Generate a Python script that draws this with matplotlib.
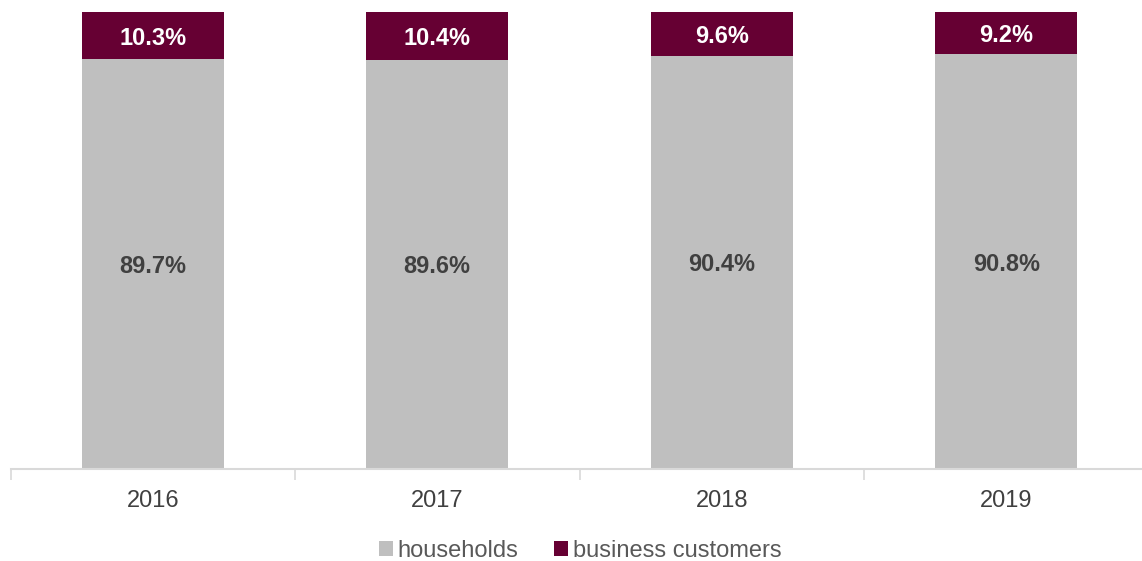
import matplotlib.pyplot as plt
import numpy as np

plt.rcParams['font.family'] = ['Liberation Sans', 'DejaVu Sans']

years = ['2016', '2017', '2018', '2019']
households = [89.7, 89.6, 90.4, 90.8]
business = [10.3, 10.4, 9.6, 9.2]

grey = '#BFBFBF'
maroon = '#660033'
axis_col = '#D9D9D9'

fig = plt.figure(figsize=(11.42, 5.61), dpi=100)
# axes run slightly past the right edge so the category ticks line up
ax = fig.add_axes([10.5 / 1142, 92 / 561, 1138 / 1142, 457 / 561])

x = np.arange(len(years))
b1 = ax.bar(x, households, width=0.5, color=grey, label='households')
b2 = ax.bar(x, business, width=0.5, bottom=households, color=maroon,
            label='business customers')

for xi, h, b in zip(x, households, business):
    ax.text(xi, h / 2, f'{h:.1f}%', ha='center', va='center_baseline',
            fontsize=17, fontweight='bold', color='#404040')
    ax.text(xi, h + b / 2, f'{b:.1f}%', ha='center', va='center_baseline',
            fontsize=17, fontweight='bold', color='white')

ax.set_xlim(-0.5, len(years) - 0.5)
ax.set_ylim(0, 100)
ax.set_yticks([])
for side in ['top', 'right', 'left']:
    ax.spines[side].set_visible(False)
ax.spines['bottom'].set_color(axis_col)
ax.spines['bottom'].set_linewidth(1.5)

# ticks between categories, labels in the middle
ax.set_xticks(np.arange(-0.5, len(years), 1.0))
ax.set_xticklabels([])
ax.set_xticks(x, minor=True)
ax.set_xticklabels(years, minor=True, fontsize=17, color='#404040')
ax.tick_params(axis='x', which='major', length=8, width=1.2, color=axis_col)
ax.tick_params(axis='x', which='minor', length=0, pad=15)

fig.legend(handles=[b1, b2], loc='center', bbox_to_anchor=(0.508, 1 - 551 / 561),
           ncol=2, frameon=False, fontsize=17, labelcolor='#595959',
           handlelength=0.6, handleheight=0.6, handletextpad=0.2,
           columnspacing=1.5)

fig.savefig('out.png', dpi=100)
